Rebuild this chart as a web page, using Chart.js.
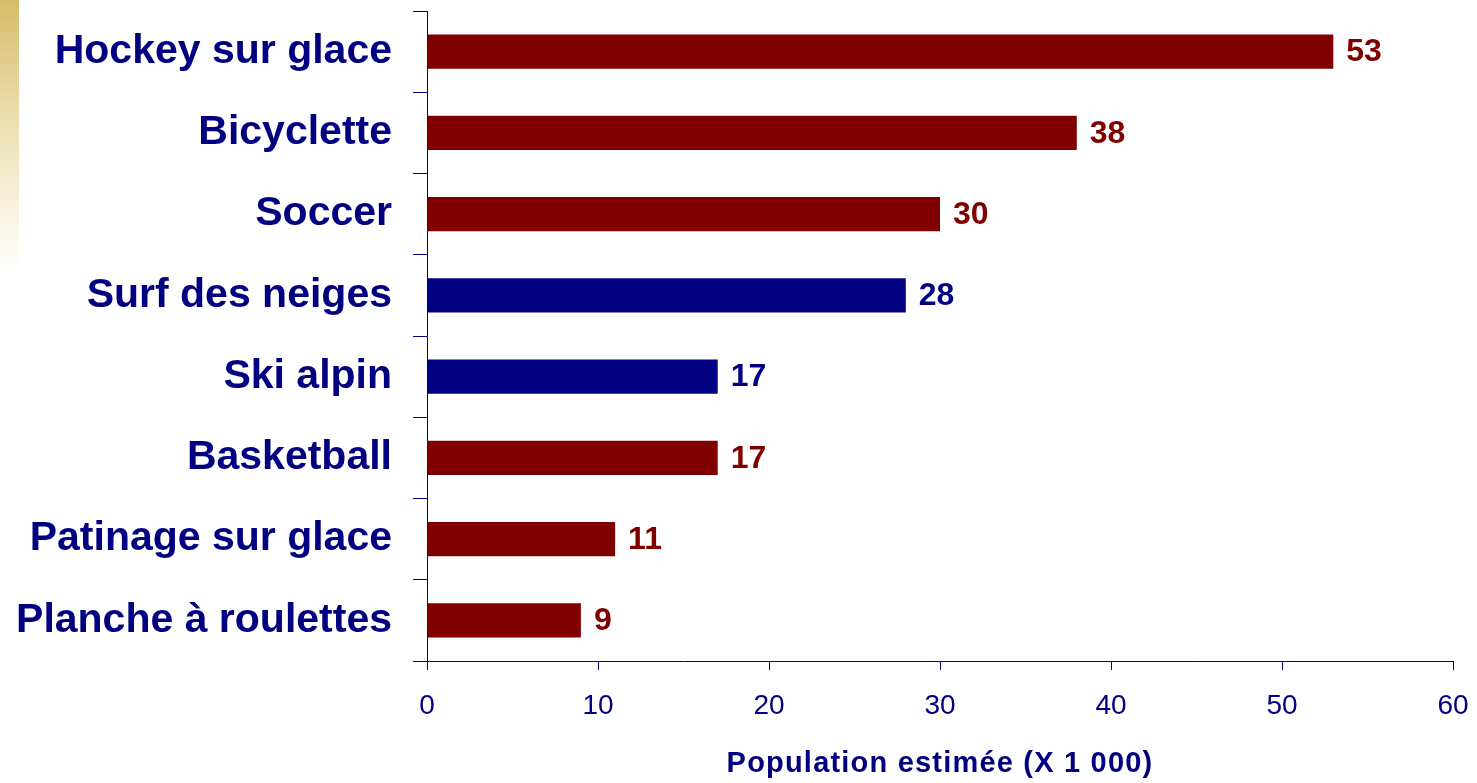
<!DOCTYPE html>
<html>
<head>
<meta charset="utf-8">
<script src="https://cdn.jsdelivr.net/npm/chart.js@4.4.1/dist/chart.umd.min.js"></script>
<style>
  html, body { margin: 0; padding: 0; background: #fff; }
  #wrap { position: relative; width: 1477px; height: 783px; overflow: hidden; }
  #stripe {
    position: absolute; left: 0; top: 0; width: 19px; height: 272px;
    background: linear-gradient(to bottom, #d4bc6a 0%, #ebdcaa 40%, #ffffff 100%);
  }
  #sportsChart { position: absolute; left: 0; top: 0; }
</style>
</head>
<body>
<div id="wrap">
  <div id="stripe"></div>
  <canvas id="sportsChart" width="1477" height="783"></canvas>
</div>
<script>
// Données
const categories = [
  "Hockey sur glace",
  "Bicyclette",
  "Soccer",
  "Surf des neiges",
  "Ski alpin",
  "Basketball",
  "Patinage sur glace",
  "Planche à roulettes",
];
const population = [53, 38, 30, 28, 17, 17, 11, 9];
const navyCats = ["Surf des neiges", "Ski alpin"];
const xTicks = [0, 10, 20, 30, 40, 50, 60];
const xTitle = "Population estimée (X 1 000)";

const MAROON = "#800000";
const NAVY = "#000080";
const FONT = "'Liberation Sans', Arial, sans-serif";

const barColors = categories.map((c) => (navyCats.includes(c) ? NAVY : MAROON));

// Etiquettes de valeur + titre de l'axe (avec espacement des lettres)
const extraText = {
  id: "extraText",
  afterDatasetsDraw(chart) {
    const ctx = chart.ctx;
    const meta = chart.getDatasetMeta(0);
    ctx.save();
    ctx.font = "bold 32px " + FONT;
    ctx.textAlign = "left";
    ctx.textBaseline = "middle";
    meta.data.forEach(function (bar, i) {
      ctx.fillStyle = barColors[i];
      ctx.fillText(String(population[i]), bar.x + 13, bar.y + 1);
    });
    ctx.restore();
  },
  afterDraw(chart) {
    const ctx = chart.ctx;
    const area = chart.chartArea;
    ctx.save();
    ctx.font = "bold 29px " + FONT;
    if ("letterSpacing" in ctx) ctx.letterSpacing = "1.2px";
    ctx.fillStyle = NAVY;
    ctx.textAlign = "center";
    ctx.textBaseline = "middle";
    ctx.fillText(xTitle, (area.left + area.right) / 2, 764);
    ctx.restore();
  },
};

const el = document.getElementById("sportsChart");
if (el) {
  new Chart(el.getContext("2d"), {
    type: "bar",
    data: {
      labels: categories,
      datasets: [
        {
          data: population,
          backgroundColor: barColors,
          borderWidth: 0,
          barPercentage: 0.42,
          categoryPercentage: 1,
        },
      ],
    },
    options: {
      indexAxis: "y",
      responsive: false,
      animation: false,
      devicePixelRatio: 1,
      layout: { padding: { top: 11, right: 24, left: 0, bottom: 0 } },
      plugins: {
        legend: { display: false },
        tooltip: { enabled: false },
      },
      scales: {
        y: {
          afterFit(scale) {
            scale.width = 427;
            scale.paddingTop = 0;
            scale.paddingBottom = 0;
          },
          grid: {
            offset: true,
            drawOnChartArea: false,
            drawTicks: true,
            tickLength: 14,
            color: NAVY,
          },
          border: { color: NAVY, width: 1 },
          ticks: {
            color: NAVY,
            padding: 21,
            font: { family: FONT, size: 41, weight: "bold" },
          },
        },
        x: {
          min: 0,
          max: 60,
          afterFit(scale) {
            scale.height = 122;
            scale.paddingLeft = 0;
            scale.paddingRight = 0;
          },
          afterBuildTicks(scale) {
            scale.ticks = xTicks.map((v) => ({ value: v }));
          },
          grid: {
            drawOnChartArea: false,
            drawTicks: true,
            tickLength: 9,
            color: NAVY,
          },
          border: { color: NAVY, width: 1 },
          ticks: {
            color: NAVY,
            padding: 19,
            maxRotation: 0,
            font: { family: FONT, size: 28 },
          },
        },
      },
    },
    plugins: [extraText],
  });
}
</script>
</body>
</html>
